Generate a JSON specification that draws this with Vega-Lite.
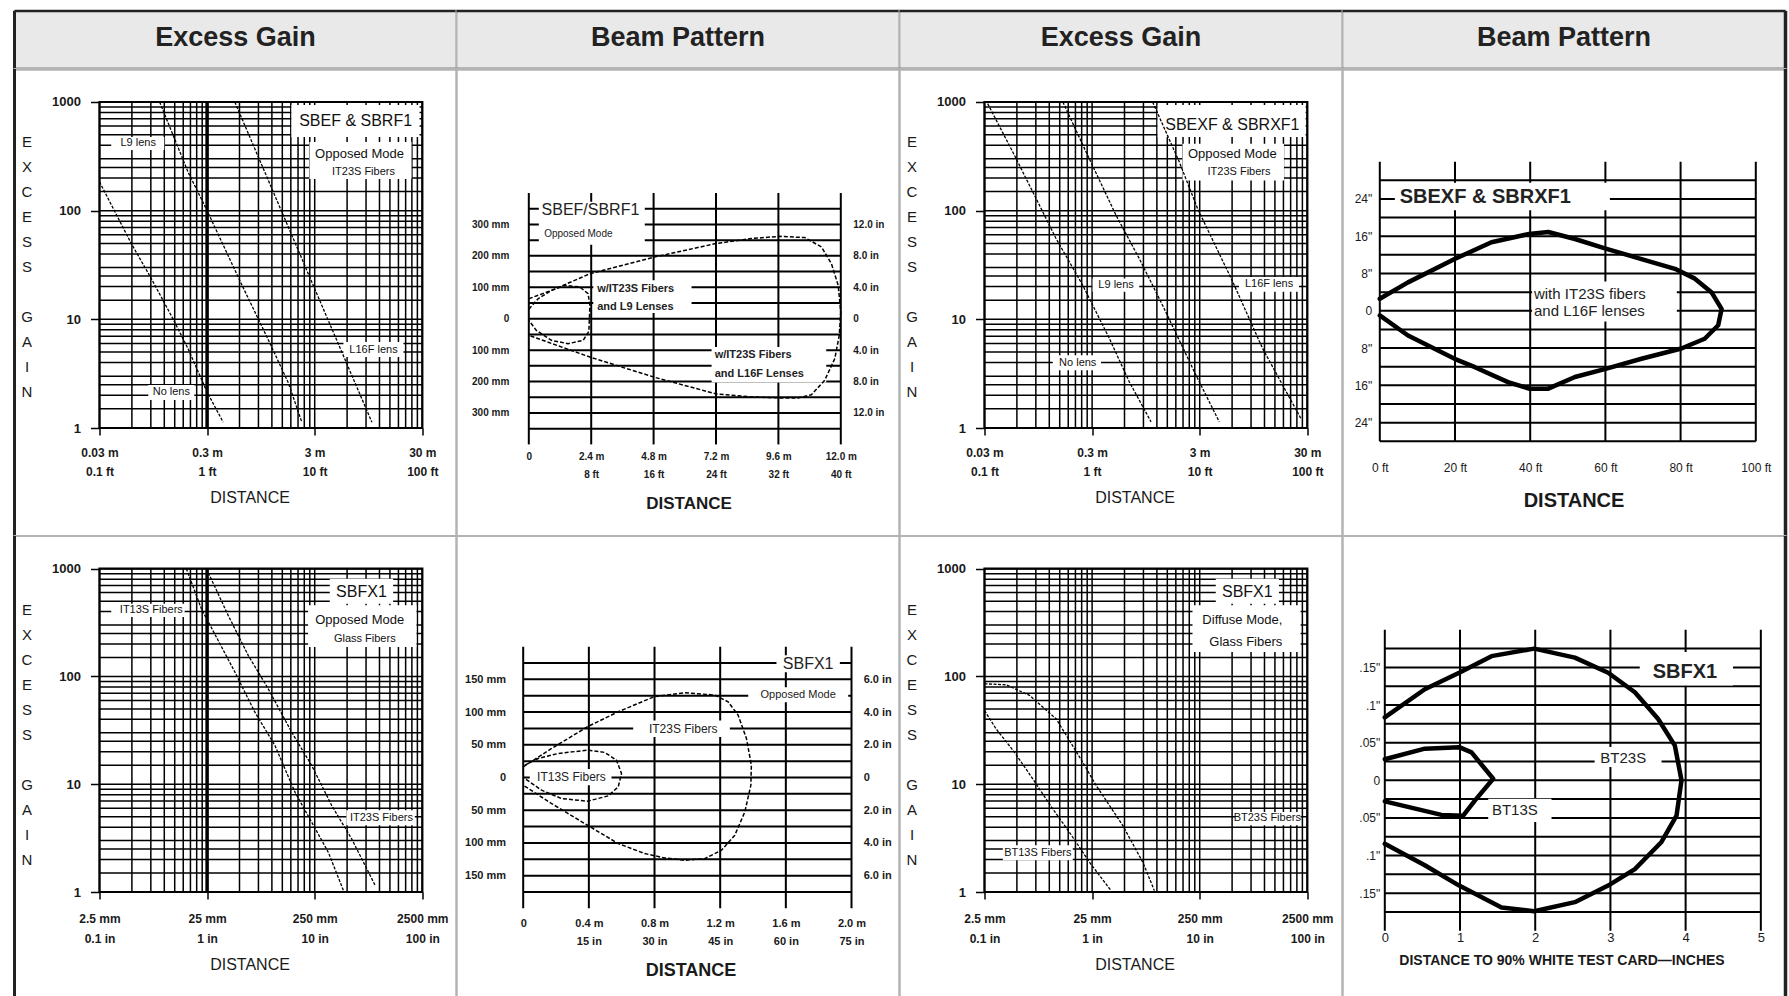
{
"$schema": "https://vega.github.io/schema/vega-lite/v6.json",
"padding": {"left": 11.5, "top": 8, "right": 0, "bottom": 0},
"background": "#ffffff",
"columns": 4,
"spacing": 0,
"bounds": "flush",
"config": {
  "font": "Liberation Sans",
  "view": {"stroke": "#b3b3b3", "strokeWidth": 2},
  "axis": {"domain": false, "grid": false, "labelOverlap": false, "labelFlush": false, "labelBound": false, "tickColor": "#000000", "tickWidth": 1.5, "labelColor": "#1a1a1a", "titleColor": "#1a1a1a", "labelAngle": 0, "labelFont": "Liberation Sans", "titleFont": "Liberation Sans"},
  "text": {"color": "#111111"},
  "concat": {"spacing": 0}
},
"datasets": {
  "lgV": [{"v":0.1},{"v":0.2},{"v":0.3},{"v":0.4},{"v":0.5},{"v":0.6},{"v":0.7},{"v":0.8},{"v":0.9},{"v":1},{"v":2},{"v":3},{"v":4},{"v":5},{"v":6},{"v":7},{"v":8},{"v":9},{"v":10},{"v":20},{"v":30},{"v":40},{"v":50},{"v":60},{"v":70},{"v":80},{"v":90},{"v":100}],
  "lgH": [{"v":1},{"v":1.5},{"v":2},{"v":2.5},{"v":3},{"v":4},{"v":5},{"v":6},{"v":7},{"v":8},{"v":9},{"v":10},{"v":15},{"v":20},{"v":25},{"v":30},{"v":40},{"v":50},{"v":60},{"v":70},{"v":80},{"v":90},{"v":100},{"v":150},{"v":200},{"v":250},{"v":300},{"v":400},{"v":500},{"v":600},{"v":700},{"v":800},{"v":900},{"v":1000}],
  "bp2V": [{"v":0},{"v":2.4},{"v":4.8},{"v":7.2},{"v":9.6},{"v":12}],
  "bp2H": [{"v":-350},{"v":-300},{"v":-250},{"v":-200},{"v":-150},{"v":-100},{"v":-50},{"v":0},{"v":50},{"v":100},{"v":150},{"v":200},{"v":250},{"v":300},{"v":350}],
  "bp4V": [{"v":0},{"v":20},{"v":40},{"v":60},{"v":80},{"v":100}],
  "bp4H": [{"v":-28},{"v":-24},{"v":-20},{"v":-16},{"v":-12},{"v":-8},{"v":-4},{"v":0},{"v":4},{"v":8},{"v":12},{"v":16},{"v":20},{"v":24},{"v":28}],
  "bp6V": [{"v":0},{"v":0.4},{"v":0.8},{"v":1.2},{"v":1.6},{"v":2}],
  "bp6H": [{"v":-175},{"v":-150},{"v":-125},{"v":-100},{"v":-75},{"v":-50},{"v":-25},{"v":0},{"v":25},{"v":50},{"v":75},{"v":100},{"v":125},{"v":150},{"v":175}],
  "bp8V": [{"v":0},{"v":1},{"v":2},{"v":3},{"v":4},{"v":5}],
  "bp8H": [{"v":-0.175},{"v":-0.15},{"v":-0.125},{"v":-0.1},{"v":-0.075},{"v":-0.05},{"v":-0.025},{"v":0},{"v":0.025},{"v":0.05},{"v":0.075},{"v":0.1},{"v":0.125},{"v":0.15},{"v":0.175}],
  "p1c": [{"c":"A","x":0.1,"y":184},{"c":"A","x":0.197,"y":50},{"c":"A","x":0.303,"y":23.7},{"c":"A","x":0.482,"y":10.1},{"c":"A","x":0.665,"y":5.37},{"c":"A","x":1,"y":2.14},{"c":"A","x":1.41,"y":1.13},
          {"c":"B","x":0.362,"y":1000},{"c":"B","x":0.665,"y":227},{"c":"B","x":1,"y":100},{"c":"B","x":2.09,"y":21},{"c":"B","x":3.7,"y":6.5},{"c":"B","x":5.69,"y":2.6},{"c":"B","x":7.57,"y":1.14},
          {"c":"C","x":1.81,"y":1000},{"c":"C","x":3.7,"y":191},{"c":"C","x":9.7,"y":20.5},{"c":"C","x":20,"y":3.85},{"c":"C","x":34,"y":1.13}],
  "p1b": [{"x1":6.07,"x2":94.2,"y1":476,"y2":938},{"x1":8.93,"x2":79.4,"y1":196,"y2":428},{"x1":0.1285,"x2":0.4,"y1":362,"y2":476},{"x1":0.284,"x2":0.76,"y1":1.81,"y2":2.49},{"x1":18.5,"x2":66.8,"y1":4.5,"y2":6.18}],
  "p1t": [{"x":24,"y":668,"t":"SBEF & SBRF1","k":"t"},{"x":26.1,"y":332,"t":"Opposed Mode","k":"s"},{"x":28.4,"y":227,"t":"IT23S Fibers","k":"c"},{"x":0.229,"y":419,"t":"L9 lens","k":"c"},{"x":0.465,"y":2.14,"t":"No lens","k":"c"},{"x":35.2,"y":5.22,"t":"L16F lens","k":"c"}],
  "p3c": [{"c":"A","x":0.107,"y":966},{"c":"A","x":0.183,"y":347},{"c":"A","x":0.302,"y":129},{"c":"A","x":0.463,"y":55.2},{"c":"A","x":0.818,"y":20.6},{"c":"A","x":1.45,"y":6.64},{"c":"A","x":2.22,"y":2.65},{"c":"A","x":3.53,"y":1.14},
          {"c":"B","x":0.535,"y":1000},{"c":"B","x":0.879,"y":347},{"c":"B","x":1.67,"y":90.6},{"c":"B","x":2.75,"y":36.1},{"c":"B","x":4.53,"y":13.4},{"c":"B","x":9.25,"y":3.05},{"c":"B","x":15.2,"y":1.14},
          {"c":"C","x":3.65,"y":1000},{"c":"C","x":6.47,"y":280},{"c":"C","x":9.57,"y":104},{"c":"C","x":20.3,"y":22.1},{"c":"C","x":38.5,"y":5.37},{"c":"C","x":87.3,"y":1.22}],
  "p3b": [{"x1":4.06,"x2":96.4,"y1":476,"y2":938},{"x1":6.92,"x2":60.7,"y1":190,"y2":413},{"x1":1.01,"x2":2.74,"y1":17.9,"y2":23.7},{"x1":0.431,"x2":1.21,"y1":3.4,"y2":4.67},{"x1":23.2,"x2":83.6,"y1":17.9,"y2":24.5}],
  "p3t": [{"x":20.1,"y":610,"t":"SBEXF & SBRXF1","k":"t"},{"x":20.1,"y":334,"t":"Opposed Mode","k":"s"},{"x":23.2,"y":227,"t":"IT23S Fibers","k":"c"},{"x":1.67,"y":20.6,"t":"L9 lens","k":"c"},{"x":0.735,"y":3.97,"t":"No lens","k":"c"},{"x":44.1,"y":21,"t":"L16F lens","k":"c"}],
  "p5c": [{"c":"A","x":0.641,"y":1000},{"c":"A","x":0.885,"y":425},{"c":"A","x":1.81,"y":110},{"c":"A","x":2.78,"y":46.6},{"c":"A","x":4.27,"y":22.9},{"c":"A","x":6.56,"y":8.43},{"c":"A","x":9.38,"y":4.44},{"c":"A","x":13.4,"y":2.33},{"c":"A","x":18.5,"y":1.03},
          {"c":"B","x":0.986,"y":1000},{"c":"B","x":1.57,"y":369},{"c":"B","x":2.41,"y":157},{"c":"B","x":3.7,"y":76.8},{"c":"B","x":6.11,"y":30.4},{"c":"B","x":9.38,"y":14.9},{"c":"B","x":14.4,"y":6.34},{"c":"B","x":22.1,"y":3.1},{"c":"B","x":36.5,"y":1.15}],
  "p5b": [{"x1":13.8,"x2":53.6,"y1":473,"y2":807},{"x1":8.68,"x2":88.3,"y1":188,"y2":457},{"x1":0.1285,"x2":0.618,"y1":356,"y2":473},{"x1":19.7,"x2":85.2,"y1":4.16,"y2":5.73}],
  "p5t": [{"x":27.2,"y":608,"t":"SBFX1","k":"t"},{"x":26.2,"y":332,"t":"Opposed Mode","k":"s"},{"x":29.2,"y":224,"t":"Glass Fibers","k":"c"},{"x":0.303,"y":411,"t":"IT13S Fibers","k":"c"},{"x":41.7,"y":4.9,"t":"IT23S Fibers","k":"c"}],
  "p7c": [{"c":"A","x":0.1,"y":48.3},{"c":"A","x":0.128,"y":32.7},{"c":"A","x":0.19,"y":19.8},{"c":"A","x":0.281,"y":11.2},{"c":"A","x":0.431,"y":5.9},{"c":"A","x":0.616,"y":3.58},{"c":"A","x":0.944,"y":1.89},{"c":"A","x":1.5,"y":1.03},
          {"c":"B","x":0.1,"y":85.5},{"c":"B","x":0.159,"y":83.7},{"c":"B","x":0.262,"y":66.7},{"c":"B","x":0.463,"y":40.5},{"c":"B","x":0.818,"y":16},{"c":"B","x":1.09,"y":9.73},{"c":"B","x":1.93,"y":4.13},{"c":"B","x":2.96,"y":1.89},{"c":"B","x":3.79,"y":1.03}],
  "p7b": [{"x1":14.1,"x2":54.5,"y1":473,"y2":807},{"x1":8.57,"x2":86.7,"y1":169,"y2":457},{"x1":21.6,"x2":86.7,"y1":4.16,"y2":5.53},{"x1":0.148,"x2":0.661,"y1":1.97,"y2":2.71}],
  "p7t": [{"x":27.7,"y":608,"t":"SBFX1","k":"t"},{"x":24.9,"y":332,"t":"Diffuse Mode,","k":"s"},{"x":26.8,"y":209,"t":"Glass Fibers","k":"s"},{"x":42.5,"y":4.9,"t":"BT23S Fibers","k":"c"},{"x":0.313,"y":2.32,"t":"BT13S Fibers","k":"c"}],
  "p2c": [{"c":"a","i":1,"x":0,"y":63.6},{"c":"a","i":2,"x":0.87,"y":90},{"c":"a","i":3,"x":2.35,"y":143},{"c":"a","i":4,"x":4.82,"y":196},{"c":"a","i":5,"x":7.19,"y":239},{"c":"a","i":6,"x":8.56,"y":255},{"c":"a","i":7,"x":9.65,"y":262},{"c":"a","i":8,"x":10.62,"y":258},{"c":"a","i":9,"x":11.26,"y":228},{"c":"a","i":10,"x":11.64,"y":175},{"c":"a","i":11,"x":11.9,"y":106},{"c":"a","i":12,"x":12.0,"y":21},{"c":"a","i":13,"x":11.94,"y":-53},{"c":"a","i":14,"x":11.77,"y":-127},{"c":"a","i":15,"x":11.38,"y":-196},{"c":"a","i":16,"x":10.87,"y":-242},{"c":"a","i":17,"x":10.36,"y":-252},{"c":"a","i":18,"x":9.65,"y":-252},{"c":"a","i":19,"x":8.56,"y":-249},{"c":"a","i":20,"x":7.19,"y":-239},{"c":"a","i":21,"x":4.82,"y":-186},{"c":"a","i":22,"x":2.35,"y":-122},{"c":"a","i":23,"x":0,"y":-53},
          {"c":"b","i":1,"x":0,"y":29.7},{"c":"b","i":2,"x":0.36,"y":63.6},{"c":"b","i":3,"x":0.87,"y":90},{"c":"b","i":4,"x":1.38,"y":106},{"c":"b","i":5,"x":1.96,"y":101},{"c":"b","i":6,"x":2.28,"y":79.5},{"c":"b","i":7,"x":2.35,"y":42.4},{"c":"b","i":8,"x":2.33,"y":0},{"c":"b","i":9,"x":2.31,"y":-40.3},{"c":"b","i":10,"x":2.09,"y":-68.9},{"c":"b","i":11,"x":1.51,"y":-79.5},{"c":"b","i":12,"x":0.87,"y":-68.9},{"c":"b","i":13,"x":0.29,"y":-37.1},{"c":"b","i":14,"x":0,"y":-5.3}],
  "p2b": [{"x1":0.385,"x2":4.46,"y1":235,"y2":372},{"x1":2.48,"x2":6.26,"y1":18,"y2":122},{"x1":7.03,"x2":11.44,"y1":-203,"y2":-90}],
  "p2t": [{"x":0.49,"y":345,"t":"SBEF/SBRF1","k":"t"},{"x":0.59,"y":270,"t":"Opposed Mode","k":"s"},{"x":2.63,"y":95,"t":"w/IT23S Fibers","k":"c"},{"x":2.63,"y":37,"t":"and L9 Lenses","k":"c"},{"x":7.15,"y":-116,"t":"w/IT23S Fibers","k":"c"},{"x":7.15,"y":-175,"t":"and L16F Lenses","k":"c"}],
  "p4c": [{"i":1,"x":0,"y":2.57},{"i":2,"x":7.5,"y":6.1},{"i":3,"x":19.9,"y":11.1},{"i":4,"x":29.7,"y":14.7},{"i":5,"x":39.7,"y":16.5},{"i":6,"x":44.8,"y":16.9},{"i":7,"x":51.9,"y":15.4},{"i":8,"x":60.3,"y":13.3},{"i":9,"x":69.6,"y":11.1},{"i":10,"x":78.5,"y":9.0},{"i":11,"x":83.8,"y":6.9},{"i":12,"x":88.2,"y":4.0},{"i":13,"x":90.9,"y":0.4},{"i":14,"x":90.0,"y":-3.1},{"i":15,"x":86.4,"y":-6.0},{"i":16,"x":80.2,"y":-8.1},{"i":17,"x":69.6,"y":-10.3},{"i":18,"x":60.3,"y":-12.4},{"i":19,"x":51.9,"y":-14.2},{"i":20,"x":44.8,"y":-16.7},{"i":21,"x":39.7,"y":-16.7},{"i":22,"x":34.1,"y":-15.3},{"i":23,"x":25.3,"y":-12.1},{"i":24,"x":19.9,"y":-10.3},{"i":25,"x":7.5,"y":-5.3},{"i":26,"x":0,"y":-1.0}],
  "p4b": [{"x1":4,"x2":61.2,"y1":21.6,"y2":27.5},{"x1":40.5,"x2":79,"y1":-2.3,"y2":6.3}],
  "p4t": [{"x":5.3,"y":24.4,"t":"SBEXF & SBRXF1","k":"t"},{"x":41,"y":3.67,"t":"with IT23S fibers","k":"c"},{"x":41,"y":-0.1,"t":"and L16F lenses","k":"c"}],
  "p6c": [{"c":"a","i":1,"x":0,"y":16.3},{"c":"a","i":2,"x":0.173,"y":44.4},{"c":"a","i":3,"x":0.392,"y":77.6},{"c":"a","i":4,"x":0.579,"y":100.5},{"c":"a","i":5,"x":0.798,"y":123.5},{"c":"a","i":6,"x":0.985,"y":129.6},{"c":"a","i":7,"x":1.167,"y":126},{"c":"a","i":8,"x":1.248,"y":115.8},{"c":"a","i":9,"x":1.309,"y":95.4},{"c":"a","i":10,"x":1.36,"y":59.7},{"c":"a","i":11,"x":1.39,"y":18.9},{"c":"a","i":12,"x":1.387,"y":-11.7},{"c":"a","i":13,"x":1.35,"y":-52.6},{"c":"a","i":14,"x":1.289,"y":-88.3},{"c":"a","i":15,"x":1.208,"y":-111.2},{"c":"a","i":16,"x":1.106,"y":-124},{"c":"a","i":17,"x":0.985,"y":-126.5},{"c":"a","i":18,"x":0.863,"y":-123},{"c":"a","i":19,"x":0.741,"y":-116.3},{"c":"a","i":20,"x":0.579,"y":-101},{"c":"a","i":21,"x":0.392,"y":-73},{"c":"a","i":22,"x":0.173,"y":-39.8},{"c":"a","i":23,"x":0,"y":-11.7},
          {"c":"b","i":1,"x":0.01,"y":18.9},{"c":"b","i":2,"x":0.091,"y":29.1},{"c":"b","i":3,"x":0.213,"y":36.7},{"c":"b","i":4,"x":0.392,"y":41.8},{"c":"b","i":5,"x":0.497,"y":38.3},{"c":"b","i":6,"x":0.568,"y":26.5},{"c":"b","i":7,"x":0.599,"y":6.1},{"c":"b","i":8,"x":0.579,"y":-14.3},{"c":"b","i":9,"x":0.518,"y":-28.1},{"c":"b","i":10,"x":0.392,"y":-36.2},{"c":"b","i":11,"x":0.233,"y":-32.1},{"c":"b","i":12,"x":0.112,"y":-19.4},{"c":"b","i":13,"x":0.01,"y":-1.5}],
  "p6b": [{"x1":1.543,"x2":1.929,"y1":161,"y2":187},{"x1":1.371,"x2":1.98,"y1":115,"y2":138},{"x1":0.67,"x2":1.259,"y1":62,"y2":87},{"x1":0.04,"x2":0.538,"y1":-12,"y2":13}],
  "p6t": [{"x":1.736,"y":174,"t":"SBFX1","k":"t"},{"x":1.675,"y":126.6,"t":"Opposed Mode","k":"s"},{"x":0.975,"y":74.6,"t":"IT23S Fibers","k":"c"},{"x":0.294,"y":0.8,"t":"IT13S Fibers","k":"c"}],
  "p8c": [{"c":"a","i":1,"x":0,"y":0.0836},{"c":"a","i":2,"x":0.532,"y":0.121},{"c":"a","i":3,"x":0.989,"y":0.143},{"c":"a","i":4,"x":1.419,"y":0.165},{"c":"a","i":5,"x":1.986,"y":0.175},{"c":"a","i":6,"x":2.527,"y":0.163},{"c":"a","i":7,"x":2.97,"y":0.143},{"c":"a","i":8,"x":3.325,"y":0.117},{"c":"a","i":9,"x":3.635,"y":0.0814},{"c":"a","i":10,"x":3.857,"y":0.046},{"c":"a","i":11,"x":3.945,"y":0},{"c":"a","i":12,"x":3.879,"y":-0.047},{"c":"a","i":13,"x":3.679,"y":-0.082},{"c":"a","i":14,"x":3.325,"y":-0.118},{"c":"a","i":15,"x":2.97,"y":-0.14},{"c":"a","i":16,"x":2.527,"y":-0.162},{"c":"a","i":17,"x":1.986,"y":-0.174},{"c":"a","i":18,"x":1.552,"y":-0.169},{"c":"a","i":19,"x":0.989,"y":-0.14},{"c":"a","i":20,"x":0.532,"y":-0.113},{"c":"a","i":21,"x":0,"y":-0.0845},
          {"c":"b","i":1,"x":0,"y":0.028},{"c":"b","i":2,"x":0.532,"y":0.042},{"c":"b","i":3,"x":0.989,"y":0.044},{"c":"b","i":4,"x":1.153,"y":0.037},{"c":"b","i":5,"x":1.441,"y":0.002},{"c":"b","i":6,"x":1.197,"y":-0.027},{"c":"b","i":7,"x":1.042,"y":-0.047},{"c":"b","i":8,"x":0.754,"y":-0.046},{"c":"b","i":9,"x":0,"y":-0.028}],
  "p8b": [{"x1":3.39,"x2":4.63,"y1":0.126,"y2":0.1705},{"x1":2.79,"x2":3.68,"y1":0.0177,"y2":0.0443},{"x1":1.375,"x2":2.217,"y1":-0.0554,"y2":-0.0245}],
  "p8t": [{"x":3.99,"y":0.144,"t":"SBFX1","k":"t"},{"x":3.17,"y":0.0296,"t":"BT23S","k":"c"},{"x":1.729,"y":-0.0399,"t":"BT13S","k":"c"}]
},
"concat": [
   {"width": 442, "height": 58, "view": {"fill": "#e9e9e9", "stroke": "#b3b3b3", "strokeWidth": 2}, "layer": [
     {"data": {"values": [{"t": "Excess Gain"}]}, "mark": {"type": "text", "fontSize": 27, "fontWeight": "bold", "color": "#222222", "dy": -2}, "encoding": {"text": {"field": "t"}}},
     {"data": {"values": [{}]}, "mark": {"type": "rule", "color": "#222222", "strokeWidth": 2.5}, "encoding": {"y": {"datum": 1, "type": "quantitative", "scale": {"domain": [0, 1], "nice": false, "zero": false}, "axis": null}}},
     {"data": {"values": [{}]}, "mark": {"type": "rule", "color": "#222222", "strokeWidth": 2.5}, "encoding": {"y": {"datum": 0, "type": "quantitative", "axis": null}}},
     {"data": {"values": [{}]}, "mark": {"type": "rule", "color": "#222222", "strokeWidth": 3}, "encoding": {"x": {"datum": 0, "type": "quantitative", "scale": {"domain": [0, 1], "nice": false, "zero": false}, "axis": null}}}
   ]},
   {"width": 443, "height": 58, "view": {"fill": "#e9e9e9", "stroke": "#b3b3b3", "strokeWidth": 2}, "layer": [
     {"data": {"values": [{"t": "Beam Pattern"}]}, "mark": {"type": "text", "fontSize": 27, "fontWeight": "bold", "color": "#222222", "dy": -2}, "encoding": {"text": {"field": "t"}}},
     {"data": {"values": [{}]}, "mark": {"type": "rule", "color": "#222222", "strokeWidth": 2.5}, "encoding": {"y": {"datum": 1, "type": "quantitative", "scale": {"domain": [0, 1], "nice": false, "zero": false}, "axis": null}}},
     {"data": {"values": [{}]}, "mark": {"type": "rule", "color": "#222222", "strokeWidth": 2.5}, "encoding": {"y": {"datum": 0, "type": "quantitative", "axis": null}}}
   ]},
   {"width": 443, "height": 58, "view": {"fill": "#e9e9e9", "stroke": "#b3b3b3", "strokeWidth": 2}, "layer": [
     {"data": {"values": [{"t": "Excess Gain"}]}, "mark": {"type": "text", "fontSize": 27, "fontWeight": "bold", "color": "#222222", "dy": -2}, "encoding": {"text": {"field": "t"}}},
     {"data": {"values": [{}]}, "mark": {"type": "rule", "color": "#222222", "strokeWidth": 2.5}, "encoding": {"y": {"datum": 1, "type": "quantitative", "scale": {"domain": [0, 1], "nice": false, "zero": false}, "axis": null}}},
     {"data": {"values": [{}]}, "mark": {"type": "rule", "color": "#222222", "strokeWidth": 2.5}, "encoding": {"y": {"datum": 0, "type": "quantitative", "axis": null}}}
   ]},
   {"width": 443, "height": 58, "view": {"fill": "#e9e9e9", "stroke": "#b3b3b3", "strokeWidth": 2}, "layer": [
     {"data": {"values": [{"t": "Beam Pattern"}]}, "mark": {"type": "text", "fontSize": 27, "fontWeight": "bold", "color": "#222222", "dy": -2}, "encoding": {"text": {"field": "t"}}},
     {"data": {"values": [{}]}, "mark": {"type": "rule", "color": "#222222", "strokeWidth": 2.5}, "encoding": {"y": {"datum": 1, "type": "quantitative", "scale": {"domain": [0, 1], "nice": false, "zero": false}, "axis": null}}},
     {"data": {"values": [{}]}, "mark": {"type": "rule", "color": "#222222", "strokeWidth": 2.5}, "encoding": {"y": {"datum": 0, "type": "quantitative", "axis": null}}},
     {"data": {"values": [{}]}, "mark": {"type": "rule", "color": "#222222", "strokeWidth": 3.5}, "encoding": {"x": {"datum": 1, "type": "quantitative", "scale": {"domain": [0, 1], "nice": false, "zero": false}, "axis": null}}}
   ]},

   {"width": 442, "height": 467, "resolve": {"axis": {"x": "independent", "y": "independent"}}, "layer": [
     {"data": {"name": "lgV"}, "mark": {"type": "rule", "color": "#000000", "strokeWidth": 1.5}, "encoding": {
       "x": {"field": "v", "type": "quantitative", "scale": {"type": "log", "domain": [0.016218, 207.86], "nice": false},
             "axis": {"orient": "bottom", "values": [0.1, 1, 10, 100], "offset": -108, "tickSize": 7, "labelPadding": 12, "labelFontSize": 12, "labelFontWeight": "bold", "labelLineHeight": 19, "labelExpr": "datum.value == 0.1 ? ['0.03 m', '0.1 ft'] : datum.value == 1 ? ['0.3 m', '1 ft'] : datum.value == 10 ? ['3 m', '10 ft'] : ['30 m', '100 ft']", "title": "DISTANCE", "titleFontSize": 16, "titleFontWeight": "normal", "titlePadding": 12, "titleX": 235}},
       "y": {"datum": 1, "type": "quantitative", "scale": {"type": "log", "domain": [0.10143, 2012.2], "nice": false},
             "axis": {"orient": "left", "values": [1, 10, 100, 1000], "format": "d", "offset": -85, "tickSize": 9, "labelPadding": 10, "labelFontSize": 13, "labelFontWeight": "bold", "title": ["E","X","C","E","S","S"], "titleAngle": 0, "titleAlign": "center", "titleBaseline": "middle", "titleX": -73, "titleY": 72, "titleFontSize": 15, "titleFontWeight": "normal", "titleLineHeight": 25}},
       "y2": {"datum": 1000}}},
     {"data": {"name": "lgH"}, "mark": {"type": "rule", "color": "#000000", "strokeWidth": 1.5}, "encoding": {"y": {"field": "v", "type": "quantitative", "axis": {"orient": "left", "values": [1], "offset": -85, "ticks": false, "labels": false, "title": ["G","A","I","N"], "titleAngle": 0, "titleAlign": "center", "titleBaseline": "middle", "titleX": -73, "titleY": 247, "titleFontSize": 15, "titleFontWeight": "normal", "titleLineHeight": 25}}, "x": {"datum": 0.1, "type": "quantitative", "axis": null}, "x2": {"datum": 100}}},
     {"data": {"values": [{}]}, "mark": {"type": "rule", "color": "#000000", "strokeWidth": 3.5}, "encoding": {"x": {"datum": 1, "type": "quantitative", "axis": null}, "y": {"datum": 1, "type": "quantitative", "axis": null}, "y2": {"datum": 1000}}},
     {"data": {"values": [{}]}, "mark": {"type": "rect", "filled": false, "color": "#000000", "strokeWidth": 2.2}, "encoding": {"x": {"datum": 0.1, "type": "quantitative", "axis": null}, "x2": {"datum": 100}, "y": {"datum": 1, "type": "quantitative", "axis": null}, "y2": {"datum": 1000}}},
     {"data": {"name": "p1b"}, "mark": {"type": "rect", "color": "#ffffff"}, "encoding": {"x": {"field": "x1", "type": "quantitative", "axis": null}, "x2": {"field": "x2"}, "y": {"field": "y1", "type": "quantitative", "axis": null}, "y2": {"field": "y2"}}},
     {"data": {"name": "p1c"}, "mark": {"type": "line", "color": "#000000", "strokeWidth": 1.3, "strokeDash": [3, 1.5]}, "encoding": {"x": {"field": "x", "type": "quantitative", "axis": null}, "y": {"field": "y", "type": "quantitative", "axis": null}, "detail": {"field": "c"}}},
     {"data": {"name": "p1t"}, "transform": [{"filter": "datum.k == 't'"}], "mark": {"type": "text", "fontSize": 16}, "encoding": {"x": {"field": "x", "type": "quantitative", "axis": null}, "y": {"field": "y", "type": "quantitative", "axis": null}, "text": {"field": "t"}}},
     {"data": {"name": "p1t"}, "transform": [{"filter": "datum.k == 's'"}], "mark": {"type": "text", "fontSize": 13}, "encoding": {"x": {"field": "x", "type": "quantitative", "axis": null}, "y": {"field": "y", "type": "quantitative", "axis": null}, "text": {"field": "t"}}},
     {"data": {"name": "p1t"}, "transform": [{"filter": "datum.k == 'c'"}], "mark": {"type": "text", "fontSize": 11}, "encoding": {"x": {"field": "x", "type": "quantitative", "axis": null}, "y": {"field": "y", "type": "quantitative", "axis": null}, "text": {"field": "t"}}},
     {"data": {"values": [{}]}, "mark": {"type": "rule", "color": "#222222", "strokeWidth": 3}, "encoding": {"x": {"datum": 0.016218, "type": "quantitative", "axis": null}}}
   ]},
   {"width": 443, "height": 467, "resolve": {"axis": {"x": "independent", "y": "independent"}}, "layer": [
     {"data": {"name": "bp2V"}, "mark": {"type": "rule", "color": "#000000", "strokeWidth": 2}, "encoding": {
       "x": {"field": "v", "type": "quantitative", "scale": {"domain": [-2.781, 14.258], "nice": false, "zero": false},
             "axis": {"orient": "bottom", "values": [0, 2.4, 4.8, 7.2, 9.6, 12], "offset": -90.7, "ticks": false, "labelPadding": 6, "labelFontSize": 10, "labelFontWeight": "bold", "labelLineHeight": 18, "labelExpr": "datum.value == 0 ? '0' : [format(datum.value, '.1f') + ' m', format(datum.value / 0.3, 'd') + ' ft']", "title": "DISTANCE", "titleFontSize": 17, "titleFontWeight": "bold", "titlePadding": 16, "titleX": 232}},
       "y": {"datum": -400, "type": "quantitative", "scale": {"domain": [-691.4, 794.5], "nice": false, "zero": false}, "axis": null},
       "y2": {"datum": 400}}},
     {"data": {"name": "bp2H"}, "mark": {"type": "rule", "color": "#000000", "strokeWidth": 2}, "encoding": {
       "y": {"field": "v", "type": "quantitative", "axis": {"orient": "left", "values": [-300, -200, -100, 0, 100, 200, 300], "offset": -72.3, "ticks": false, "labelPadding": 20, "labelFontSize": 10, "labelFontWeight": "bold", "labelExpr": "datum.value == 0 ? '0' : format(abs(datum.value), 'd') + ' mm'", "title": null}},
       "x": {"datum": 0, "type": "quantitative", "axis": null}, "x2": {"datum": 12}}},
     {"data": {"name": "p2b"}, "mark": {"type": "rect", "color": "#ffffff"}, "encoding": {
       "x": {"field": "x1", "type": "quantitative", "axis": null}, "x2": {"field": "x2"},
       "y": {"field": "y1", "type": "quantitative", "axis": {"orient": "right", "values": [-300, -200, -100, 0, 100, 200, 300], "offset": -58.7, "ticks": false, "labelPadding": 12, "labelFontSize": 10, "labelFontWeight": "bold", "labelExpr": "datum.value == 0 ? '0' : format(abs(datum.value) / 25, '.1f') + ' in'", "title": null}},
       "y2": {"field": "y2"}}},
     {"data": {"name": "p2c"}, "mark": {"type": "line", "color": "#000000", "strokeWidth": 1.5, "strokeDash": [4, 2]}, "encoding": {"x": {"field": "x", "type": "quantitative", "axis": null}, "y": {"field": "y", "type": "quantitative", "axis": null}, "detail": {"field": "c"}, "order": {"field": "i"}}},
     {"data": {"name": "p2t"}, "transform": [{"filter": "datum.k == 't'"}], "mark": {"type": "text", "fontSize": 16, "align": "left", "color": "#222222"}, "encoding": {"x": {"field": "x", "type": "quantitative", "axis": null}, "y": {"field": "y", "type": "quantitative", "axis": null}, "text": {"field": "t"}}},
     {"data": {"name": "p2t"}, "transform": [{"filter": "datum.k == 's'"}], "mark": {"type": "text", "fontSize": 10, "align": "left", "color": "#222222"}, "encoding": {"x": {"field": "x", "type": "quantitative", "axis": null}, "y": {"field": "y", "type": "quantitative", "axis": null}, "text": {"field": "t"}}},
     {"data": {"name": "p2t"}, "transform": [{"filter": "datum.k == 'c'"}], "mark": {"type": "text", "fontSize": 11, "fontWeight": "bold", "align": "left", "color": "#222222"}, "encoding": {"x": {"field": "x", "type": "quantitative", "axis": null}, "y": {"field": "y", "type": "quantitative", "axis": null}, "text": {"field": "t"}}}
   ]},
   {"width": 443, "height": 467, "resolve": {"axis": {"x": "independent", "y": "independent"}}, "layer": [
     {"data": {"name": "lgV"}, "mark": {"type": "rule", "color": "#000000", "strokeWidth": 1.5}, "encoding": {
       "x": {"field": "v", "type": "quantitative", "scale": {"type": "log", "domain": [0.016218, 212.36], "nice": false},
             "axis": {"orient": "bottom", "values": [0.1, 1, 10, 100], "offset": -108, "tickSize": 7, "labelPadding": 12, "labelFontSize": 12, "labelFontWeight": "bold", "labelLineHeight": 19, "labelExpr": "datum.value == 0.1 ? ['0.03 m', '0.1 ft'] : datum.value == 1 ? ['0.3 m', '1 ft'] : datum.value == 10 ? ['3 m', '10 ft'] : ['30 m', '100 ft']", "title": "DISTANCE", "titleFontSize": 16, "titleFontWeight": "normal", "titlePadding": 12, "titleX": 235}},
       "y": {"datum": 1, "type": "quantitative", "scale": {"type": "log", "domain": [0.10143, 2012.2], "nice": false},
             "axis": {"orient": "left", "values": [1, 10, 100, 1000], "format": "d", "offset": -85, "tickSize": 9, "labelPadding": 10, "labelFontSize": 13, "labelFontWeight": "bold", "title": ["E","X","C","E","S","S"], "titleAngle": 0, "titleAlign": "center", "titleBaseline": "middle", "titleX": -73, "titleY": 72, "titleFontSize": 15, "titleFontWeight": "normal", "titleLineHeight": 25}},
       "y2": {"datum": 1000}}},
     {"data": {"name": "lgH"}, "mark": {"type": "rule", "color": "#000000", "strokeWidth": 1.5}, "encoding": {"y": {"field": "v", "type": "quantitative", "axis": {"orient": "left", "values": [1], "offset": -85, "ticks": false, "labels": false, "title": ["G","A","I","N"], "titleAngle": 0, "titleAlign": "center", "titleBaseline": "middle", "titleX": -73, "titleY": 247, "titleFontSize": 15, "titleFontWeight": "normal", "titleLineHeight": 25}}, "x": {"datum": 0.1, "type": "quantitative", "axis": null}, "x2": {"datum": 100}}},
     {"data": {"values": [{}]}, "mark": {"type": "rect", "filled": false, "color": "#000000", "strokeWidth": 2.2}, "encoding": {"x": {"datum": 0.1, "type": "quantitative", "axis": null}, "x2": {"datum": 100}, "y": {"datum": 1, "type": "quantitative", "axis": null}, "y2": {"datum": 1000}}},
     {"data": {"name": "p3b"}, "mark": {"type": "rect", "color": "#ffffff"}, "encoding": {"x": {"field": "x1", "type": "quantitative", "axis": null}, "x2": {"field": "x2"}, "y": {"field": "y1", "type": "quantitative", "axis": null}, "y2": {"field": "y2"}}},
     {"data": {"name": "p3c"}, "mark": {"type": "line", "color": "#000000", "strokeWidth": 1.3, "strokeDash": [3, 1.5]}, "encoding": {"x": {"field": "x", "type": "quantitative", "axis": null}, "y": {"field": "y", "type": "quantitative", "axis": null}, "detail": {"field": "c"}}},
     {"data": {"name": "p3t"}, "transform": [{"filter": "datum.k == 't'"}], "mark": {"type": "text", "fontSize": 16}, "encoding": {"x": {"field": "x", "type": "quantitative", "axis": null}, "y": {"field": "y", "type": "quantitative", "axis": null}, "text": {"field": "t"}}},
     {"data": {"name": "p3t"}, "transform": [{"filter": "datum.k == 's'"}], "mark": {"type": "text", "fontSize": 13}, "encoding": {"x": {"field": "x", "type": "quantitative", "axis": null}, "y": {"field": "y", "type": "quantitative", "axis": null}, "text": {"field": "t"}}},
     {"data": {"name": "p3t"}, "transform": [{"filter": "datum.k == 'c'"}], "mark": {"type": "text", "fontSize": 11}, "encoding": {"x": {"field": "x", "type": "quantitative", "axis": null}, "y": {"field": "y", "type": "quantitative", "axis": null}, "text": {"field": "t"}}}
   ]},
   {"width": 443, "height": 467, "resolve": {"axis": {"x": "independent", "y": "independent"}}, "layer": [
     {"data": {"name": "bp4V"}, "mark": {"type": "rule", "color": "#000000", "strokeWidth": 2}, "encoding": {
       "x": {"field": "v", "type": "quantitative", "scale": {"domain": [-9.92, 107.9], "nice": false, "zero": false},
             "axis": {"orient": "bottom", "values": [0, 20, 40, 60, 80, 100], "offset": -94, "ticks": false, "labelPadding": 20, "labelFontSize": 12, "labelExpr": "datum.value + ' ft'", "title": "DISTANCE", "titleFontSize": 20, "titleFontWeight": "bold", "titlePadding": 17, "titleX": 231}},
       "y": {"datum": -28, "type": "quantitative", "scale": {"domain": [-48.32, 51.88], "nice": false, "zero": false}, "axis": null},
       "y2": {"datum": 32}}},
     {"data": {"name": "bp4H"}, "mark": {"type": "rule", "color": "#000000", "strokeWidth": 2}, "encoding": {
       "y": {"field": "v", "type": "quantitative", "axis": {"orient": "left", "values": [-24, -16, -8, 0, 8, 16, 24], "offset": -37.3, "ticks": false, "labelPadding": 8, "labelFontSize": 12, "labelExpr": "datum.value == 0 ? '0' : abs(datum.value) + '\"'", "title": null}},
       "x": {"datum": 0, "type": "quantitative", "axis": null}, "x2": {"datum": 100}}},
     {"data": {"name": "p4b"}, "mark": {"type": "rect", "color": "#ffffff"}, "encoding": {"x": {"field": "x1", "type": "quantitative", "axis": null}, "x2": {"field": "x2"}, "y": {"field": "y1", "type": "quantitative", "axis": null}, "y2": {"field": "y2"}}},
     {"data": {"name": "p4c"}, "mark": {"type": "line", "color": "#000000", "strokeWidth": 4.5, "strokeJoin": "round", "strokeCap": "round"}, "encoding": {"x": {"field": "x", "type": "quantitative", "axis": null}, "y": {"field": "y", "type": "quantitative", "axis": null}, "order": {"field": "i"}}},
     {"data": {"name": "p4t"}, "transform": [{"filter": "datum.k == 't'"}], "mark": {"type": "text", "fontSize": 20, "fontWeight": "bold", "align": "left", "color": "#222222"}, "encoding": {"x": {"field": "x", "type": "quantitative", "axis": null}, "y": {"field": "y", "type": "quantitative", "axis": null}, "text": {"field": "t"}}},
     {"data": {"name": "p4t"}, "transform": [{"filter": "datum.k == 'c'"}], "mark": {"type": "text", "fontSize": 15, "align": "left", "color": "#222222"}, "encoding": {"x": {"field": "x", "type": "quantitative", "axis": null}, "y": {"field": "y", "type": "quantitative", "axis": null}, "text": {"field": "t"}}},
     {"data": {"values": [{}]}, "mark": {"type": "rule", "color": "#222222", "strokeWidth": 3.5}, "encoding": {"x": {"datum": 107.9, "type": "quantitative", "axis": null}}}
   ]},

   {"width": 442, "height": 462, "resolve": {"axis": {"x": "independent", "y": "independent"}}, "layer": [
     {"data": {"name": "lgV"}, "mark": {"type": "rule", "color": "#000000", "strokeWidth": 1.5}, "encoding": {
       "x": {"field": "v", "type": "quantitative", "scale": {"type": "log", "domain": [0.016218, 207.86], "nice": false},
             "axis": {"orient": "bottom", "values": [0.1, 1, 10, 100], "offset": -106, "tickSize": 7, "labelPadding": 14, "labelFontSize": 12, "labelFontWeight": "bold", "labelLineHeight": 20, "labelExpr": "datum.value == 0.1 ? ['2.5 mm', '0.1 in'] : datum.value == 1 ? ['25 mm', '1 in'] : datum.value == 10 ? ['250 mm', '10 in'] : ['2500 mm', '100 in']", "title": "DISTANCE", "titleFontSize": 16, "titleFontWeight": "normal", "titlePadding": 12, "titleX": 235}},
       "y": {"datum": 1, "type": "quantitative", "scale": {"type": "log", "domain": [0.10388, 2011], "nice": false},
             "axis": {"orient": "left", "values": [1, 10, 100, 1000], "format": "d", "offset": -85, "tickSize": 9, "labelPadding": 10, "labelFontSize": 13, "labelFontWeight": "bold", "title": ["E","X","C","E","S","S"], "titleAngle": 0, "titleAlign": "center", "titleBaseline": "middle", "titleX": -73, "titleY": 73, "titleFontSize": 15, "titleFontWeight": "normal", "titleLineHeight": 25}},
       "y2": {"datum": 1000}}},
     {"data": {"name": "lgH"}, "mark": {"type": "rule", "color": "#000000", "strokeWidth": 1.5}, "encoding": {"y": {"field": "v", "type": "quantitative", "axis": {"orient": "left", "values": [1], "offset": -85, "ticks": false, "labels": false, "title": ["G","A","I","N"], "titleAngle": 0, "titleAlign": "center", "titleBaseline": "middle", "titleX": -73, "titleY": 248, "titleFontSize": 15, "titleFontWeight": "normal", "titleLineHeight": 25}}, "x": {"datum": 0.1, "type": "quantitative", "axis": null}, "x2": {"datum": 100}}},
     {"data": {"values": [{}]}, "mark": {"type": "rule", "color": "#000000", "strokeWidth": 3.5}, "encoding": {"x": {"datum": 1, "type": "quantitative", "axis": null}, "y": {"datum": 1, "type": "quantitative", "axis": null}, "y2": {"datum": 1000}}},
     {"data": {"values": [{}]}, "mark": {"type": "rect", "filled": false, "color": "#000000", "strokeWidth": 2.2}, "encoding": {"x": {"datum": 0.1, "type": "quantitative", "axis": null}, "x2": {"datum": 100}, "y": {"datum": 1, "type": "quantitative", "axis": null}, "y2": {"datum": 1000}}},
     {"data": {"name": "p5b"}, "mark": {"type": "rect", "color": "#ffffff"}, "encoding": {"x": {"field": "x1", "type": "quantitative", "axis": null}, "x2": {"field": "x2"}, "y": {"field": "y1", "type": "quantitative", "axis": null}, "y2": {"field": "y2"}}},
     {"data": {"name": "p5c"}, "mark": {"type": "line", "color": "#000000", "strokeWidth": 1.3, "strokeDash": [3, 1.5]}, "encoding": {"x": {"field": "x", "type": "quantitative", "axis": null}, "y": {"field": "y", "type": "quantitative", "axis": null}, "detail": {"field": "c"}}},
     {"data": {"name": "p5t"}, "transform": [{"filter": "datum.k == 't'"}], "mark": {"type": "text", "fontSize": 16}, "encoding": {"x": {"field": "x", "type": "quantitative", "axis": null}, "y": {"field": "y", "type": "quantitative", "axis": null}, "text": {"field": "t"}}},
     {"data": {"name": "p5t"}, "transform": [{"filter": "datum.k == 's'"}], "mark": {"type": "text", "fontSize": 13}, "encoding": {"x": {"field": "x", "type": "quantitative", "axis": null}, "y": {"field": "y", "type": "quantitative", "axis": null}, "text": {"field": "t"}}},
     {"data": {"name": "p5t"}, "transform": [{"filter": "datum.k == 'c'"}], "mark": {"type": "text", "fontSize": 11}, "encoding": {"x": {"field": "x", "type": "quantitative", "axis": null}, "y": {"field": "y", "type": "quantitative", "axis": null}, "text": {"field": "t"}}},
     {"data": {"values": [{}]}, "mark": {"type": "rule", "color": "#222222", "strokeWidth": 3}, "encoding": {"x": {"datum": 0.016218, "type": "quantitative", "axis": null}}}
   ]},
   {"width": 443, "height": 462, "resolve": {"axis": {"x": "independent", "y": "independent"}}, "layer": [
     {"data": {"name": "bp6V"}, "mark": {"type": "rule", "color": "#000000", "strokeWidth": 2}, "encoding": {
       "x": {"field": "v", "type": "quantitative", "scale": {"domain": [-0.4063, 2.2924], "nice": false, "zero": false},
             "axis": {"orient": "bottom", "values": [0, 0.4, 0.8, 1.2, 1.6, 2], "offset": -89.3, "ticks": false, "labelPadding": 9, "labelFontSize": 11, "labelFontWeight": "bold", "labelLineHeight": 18, "labelExpr": "datum.value == 0 ? '0' : [format(datum.value, '.1f') + ' m', format(datum.value * 37.5, 'd') + ' in']", "title": "DISTANCE", "titleFontSize": 18, "titleFontWeight": "bold", "titlePadding": 15, "titleX": 234}},
       "y": {"datum": -200, "type": "quantitative", "scale": {"domain": [-337.0, 369.1], "nice": false, "zero": false}, "axis": null},
       "y2": {"datum": 200}}},
     {"data": {"name": "bp6H"}, "mark": {"type": "rule", "color": "#000000", "strokeWidth": 2}, "encoding": {
       "y": {"field": "v", "type": "quantitative", "axis": {"orient": "left", "values": [-150, -100, -50, 0, 50, 100, 150], "offset": -66.7, "ticks": false, "labelPadding": 17.7, "labelFontSize": 11, "labelFontWeight": "bold", "labelExpr": "datum.value == 0 ? '0' : format(abs(datum.value), 'd') + ' mm'", "title": null}},
       "x": {"datum": 0, "type": "quantitative", "axis": null}, "x2": {"datum": 2}}},
     {"data": {"name": "p6b"}, "mark": {"type": "rect", "color": "#ffffff"}, "encoding": {
       "x": {"field": "x1", "type": "quantitative", "axis": null}, "x2": {"field": "x2"},
       "y": {"field": "y1", "type": "quantitative", "axis": {"orient": "right", "values": [-150, -100, -50, 0, 50, 100, 150], "offset": -48, "ticks": false, "labelPadding": 11.7, "labelFontSize": 11, "labelFontWeight": "bold", "labelExpr": "datum.value == 0 ? '0' : format(abs(datum.value) / 25, '.1f') + ' in'", "title": null}},
       "y2": {"field": "y2"}}},
     {"data": {"name": "p6c"}, "mark": {"type": "line", "color": "#000000", "strokeWidth": 1.5, "strokeDash": [4, 2]}, "encoding": {"x": {"field": "x", "type": "quantitative", "axis": null}, "y": {"field": "y", "type": "quantitative", "axis": null}, "detail": {"field": "c"}, "order": {"field": "i"}}},
     {"data": {"name": "p6t"}, "transform": [{"filter": "datum.k == 't'"}], "mark": {"type": "text", "fontSize": 16, "color": "#222222"}, "encoding": {"x": {"field": "x", "type": "quantitative", "axis": null}, "y": {"field": "y", "type": "quantitative", "axis": null}, "text": {"field": "t"}}},
     {"data": {"name": "p6t"}, "transform": [{"filter": "datum.k == 's'"}], "mark": {"type": "text", "fontSize": 11, "color": "#222222"}, "encoding": {"x": {"field": "x", "type": "quantitative", "axis": null}, "y": {"field": "y", "type": "quantitative", "axis": null}, "text": {"field": "t"}}},
     {"data": {"name": "p6t"}, "transform": [{"filter": "datum.k == 'c'"}], "mark": {"type": "text", "fontSize": 12, "color": "#222222"}, "encoding": {"x": {"field": "x", "type": "quantitative", "axis": null}, "y": {"field": "y", "type": "quantitative", "axis": null}, "text": {"field": "t"}}}
   ]},
   {"width": 443, "height": 462, "resolve": {"axis": {"x": "independent", "y": "independent"}}, "layer": [
     {"data": {"name": "lgV"}, "mark": {"type": "rule", "color": "#000000", "strokeWidth": 1.5}, "encoding": {
       "x": {"field": "v", "type": "quantitative", "scale": {"type": "log", "domain": [0.016218, 212.36], "nice": false},
             "axis": {"orient": "bottom", "values": [0.1, 1, 10, 100], "offset": -106, "tickSize": 7, "labelPadding": 14, "labelFontSize": 12, "labelFontWeight": "bold", "labelLineHeight": 20, "labelExpr": "datum.value == 0.1 ? ['2.5 mm', '0.1 in'] : datum.value == 1 ? ['25 mm', '1 in'] : datum.value == 10 ? ['250 mm', '10 in'] : ['2500 mm', '100 in']", "title": "DISTANCE", "titleFontSize": 16, "titleFontWeight": "normal", "titlePadding": 12, "titleX": 235}},
       "y": {"datum": 1, "type": "quantitative", "scale": {"type": "log", "domain": [0.10388, 2011], "nice": false},
             "axis": {"orient": "left", "values": [1, 10, 100, 1000], "format": "d", "offset": -85, "tickSize": 9, "labelPadding": 10, "labelFontSize": 13, "labelFontWeight": "bold", "title": ["E","X","C","E","S","S"], "titleAngle": 0, "titleAlign": "center", "titleBaseline": "middle", "titleX": -73, "titleY": 73, "titleFontSize": 15, "titleFontWeight": "normal", "titleLineHeight": 25}},
       "y2": {"datum": 1000}}},
     {"data": {"name": "lgH"}, "mark": {"type": "rule", "color": "#000000", "strokeWidth": 1.5}, "encoding": {"y": {"field": "v", "type": "quantitative", "axis": {"orient": "left", "values": [1], "offset": -85, "ticks": false, "labels": false, "title": ["G","A","I","N"], "titleAngle": 0, "titleAlign": "center", "titleBaseline": "middle", "titleX": -73, "titleY": 248, "titleFontSize": 15, "titleFontWeight": "normal", "titleLineHeight": 25}}, "x": {"datum": 0.1, "type": "quantitative", "axis": null}, "x2": {"datum": 100}}},
     {"data": {"values": [{}]}, "mark": {"type": "rect", "filled": false, "color": "#000000", "strokeWidth": 2.2}, "encoding": {"x": {"datum": 0.1, "type": "quantitative", "axis": null}, "x2": {"datum": 100}, "y": {"datum": 1, "type": "quantitative", "axis": null}, "y2": {"datum": 1000}}},
     {"data": {"name": "p7b"}, "mark": {"type": "rect", "color": "#ffffff"}, "encoding": {"x": {"field": "x1", "type": "quantitative", "axis": null}, "x2": {"field": "x2"}, "y": {"field": "y1", "type": "quantitative", "axis": null}, "y2": {"field": "y2"}}},
     {"data": {"name": "p7c"}, "mark": {"type": "line", "color": "#000000", "strokeWidth": 1.3, "strokeDash": [3, 1.5]}, "encoding": {"x": {"field": "x", "type": "quantitative", "axis": null}, "y": {"field": "y", "type": "quantitative", "axis": null}, "detail": {"field": "c"}}},
     {"data": {"name": "p7t"}, "transform": [{"filter": "datum.k == 't'"}], "mark": {"type": "text", "fontSize": 16}, "encoding": {"x": {"field": "x", "type": "quantitative", "axis": null}, "y": {"field": "y", "type": "quantitative", "axis": null}, "text": {"field": "t"}}},
     {"data": {"name": "p7t"}, "transform": [{"filter": "datum.k == 's'"}], "mark": {"type": "text", "fontSize": 13}, "encoding": {"x": {"field": "x", "type": "quantitative", "axis": null}, "y": {"field": "y", "type": "quantitative", "axis": null}, "text": {"field": "t"}}},
     {"data": {"name": "p7t"}, "transform": [{"filter": "datum.k == 'c'"}], "mark": {"type": "text", "fontSize": 11}, "encoding": {"x": {"field": "x", "type": "quantitative", "axis": null}, "y": {"field": "y", "type": "quantitative", "axis": null}, "text": {"field": "t"}}}
   ]},
   {"width": 443, "height": 462, "resolve": {"axis": {"x": "independent", "y": "independent"}}, "layer": [
     {"data": {"name": "bp8V"}, "mark": {"type": "rule", "color": "#000000", "strokeWidth": 2}, "encoding": {
       "x": {"field": "v", "type": "quantitative", "scale": {"domain": [-0.5625, 5.328], "nice": false, "zero": false},
             "axis": {"orient": "bottom", "values": [0, 1, 2, 3, 4, 5], "offset": -66, "ticks": false, "labelPadding": -1, "labelFontSize": 13, "title": "DISTANCE TO 90% WHITE TEST CARD\u2014INCHES", "titleFontSize": 14, "titleFontWeight": "bold", "titlePadding": 9, "titleX": 219}},
       "y": {"datum": -0.2, "type": "quantitative", "scale": {"domain": [-0.2894, 0.3247], "nice": false, "zero": false}, "axis": null},
       "y2": {"datum": 0.2}}},
     {"data": {"name": "bp8H"}, "mark": {"type": "rule", "color": "#000000", "strokeWidth": 2}, "encoding": {
       "y": {"field": "v", "type": "quantitative", "axis": {"orient": "left", "values": [-0.15, -0.1, -0.05, 0, 0.05, 0.1, 0.15], "offset": -42.3, "ticks": false, "labelPadding": 5, "labelFontSize": 12, "labelExpr": "datum.value == 0 ? '0' : replace(format(abs(datum.value), '~g'), '0.', '.') + '\"'", "title": null}},
       "x": {"datum": 0, "type": "quantitative", "axis": null}, "x2": {"datum": 5}}},
     {"data": {"name": "p8b"}, "mark": {"type": "rect", "color": "#ffffff"}, "encoding": {"x": {"field": "x1", "type": "quantitative", "axis": null}, "x2": {"field": "x2"}, "y": {"field": "y1", "type": "quantitative", "axis": null}, "y2": {"field": "y2"}}},
     {"data": {"name": "p8c"}, "mark": {"type": "line", "color": "#000000", "strokeWidth": 4.5, "strokeJoin": "round", "strokeCap": "round"}, "encoding": {"x": {"field": "x", "type": "quantitative", "axis": null}, "y": {"field": "y", "type": "quantitative", "axis": null}, "detail": {"field": "c"}, "order": {"field": "i"}}},
     {"data": {"name": "p8t"}, "transform": [{"filter": "datum.k == 't'"}], "mark": {"type": "text", "fontSize": 20, "fontWeight": "bold", "color": "#222222"}, "encoding": {"x": {"field": "x", "type": "quantitative", "axis": null}, "y": {"field": "y", "type": "quantitative", "axis": null}, "text": {"field": "t"}}},
     {"data": {"name": "p8t"}, "transform": [{"filter": "datum.k == 'c'"}], "mark": {"type": "text", "fontSize": 15, "color": "#222222"}, "encoding": {"x": {"field": "x", "type": "quantitative", "axis": null}, "y": {"field": "y", "type": "quantitative", "axis": null}, "text": {"field": "t"}}},
     {"data": {"values": [{}]}, "mark": {"type": "rule", "color": "#222222", "strokeWidth": 3.5}, "encoding": {"x": {"datum": 5.328, "type": "quantitative", "axis": null}}}
   ]}
]
}
